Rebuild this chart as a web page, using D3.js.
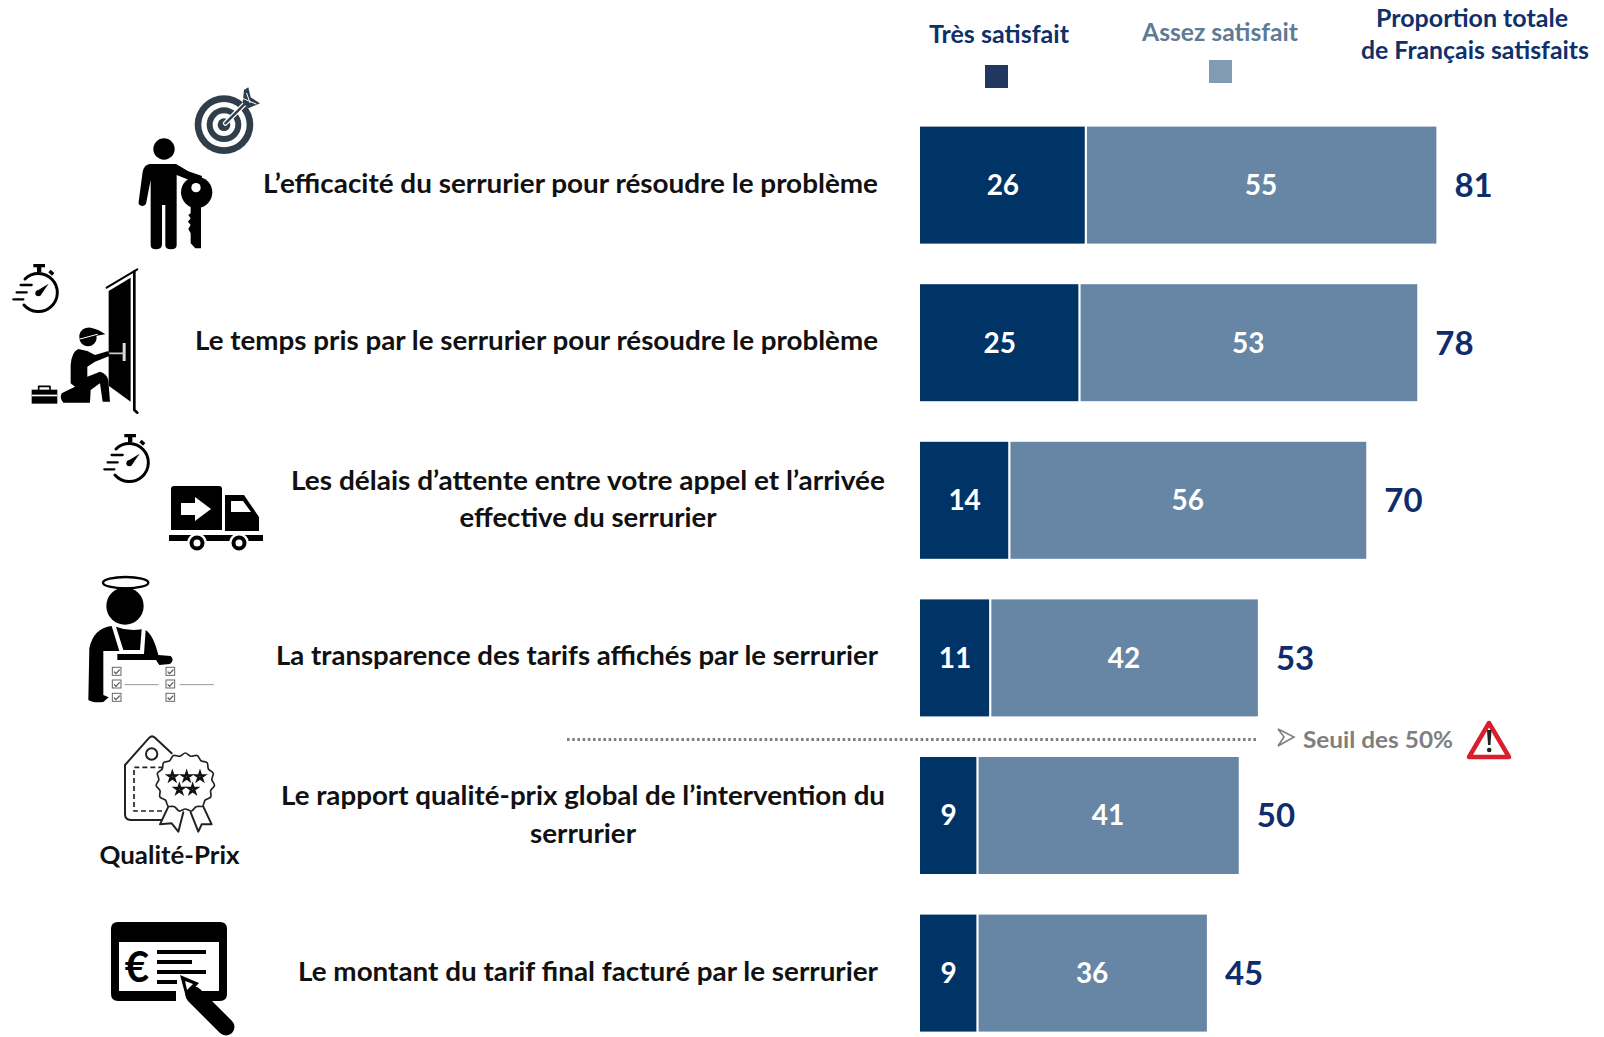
<!DOCTYPE html>
<html lang="fr">
<head>
<meta charset="utf-8">
<title>Satisfaction serrurier</title>
<script src="https://cdn.jsdelivr.net/npm/d3@7"></script>
<style>
  html, body { margin: 0; padding: 0; background: #fff; overflow: hidden; }
  svg { display: block; }
  text { font-family: Lato, "Open Sans", sans-serif; font-weight: 700; }
</style>
</head>
<body>
<div id="chart"></div>
<script>
(function() {
  var criteria = ["efficacite", "temps", "delais", "transparence", "rapport", "montant"];
  var tresSatisfait = [26, 25, 14, 11, 9, 9];
  var assezSatisfait = [55, 53, 56, 42, 41, 36];
  var totals = [81, 78, 70, 53, 50, 45];
  var seriesNames = ["Très satisfait", "Assez satisfait"];
  var labels = [
    ["L’efficacité du serrurier pour résoudre le problème"],
    ["Le temps pris par le serrurier pour résoudre le problème"],
    ["Les délais d’attente entre votre appel et l’arrivée", "effective du serrurier"],
    ["La transparence des tarifs affichés par le serrurier"],
    ["Le rapport qualité-prix global de l’intervention du", "serrurier"],
    ["Le montant du tarif final facturé par le serrurier"]
  ];

  // Width and Height of the whole visualization
  var width = 1604;
  var height = 1037;

  var svg = d3.select("#chart")
    .append("svg")
    .attr("width", width)
    .attr("height", height);

  var xScale = d3.scaleLinear().domain([0, 100]).range([920, 1557.5]);
  var yScale = d3.scaleBand().domain(criteria).range([126.6, 1031.6]).paddingInner(0.2576).paddingOuter(0);

  var table = criteria.map(function(c, i) {
    return { key: c, tres: tresSatisfait[i], assez: assezSatisfait[i] };
  });
  var stacked = d3.stack().keys(["tres", "assez"])(table);
  var barColors = ["#003366", "#6785a5"];

  // bars, with the small white gap between the two parts
  svg.append("g").selectAll("g")
    .data(stacked)
    .enter()
    .append("g")
    .attr("fill", function(d, i) { return barColors[i]; })
    .each(function(s, si) {
      d3.select(this).selectAll("rect")
        .data(s)
        .enter()
        .append("rect")
        .attr("x", function(d) { return xScale(d[0]) + (si == 1 ? 1.2 : 0); })
        .attr("y", function(d) { return yScale(d.data.key); })
        .attr("width", function(d) { return xScale(d[1]) - xScale(d[0]) - (si == 1 ? 1.2 : 1); })
        .attr("height", yScale.bandwidth());

      d3.select(this).selectAll("text")
        .data(s)
        .enter()
        .append("text")
        .attr("x", function(d) { return (xScale(d[0]) + xScale(d[1])) / 2; })
        .attr("y", function(d) { return yScale(d.data.key) + yScale.bandwidth() / 2 + 10; })
        .attr("text-anchor", "middle")
        .attr("fill", "#fff")
        .attr("font-size", 28)
        .text(function(d) { return d[1] - d[0]; });
    });

  // totals at the end of the bars
  svg.append("g").selectAll("text")
    .data(totals)
    .enter()
    .append("text")
    .attr("x", function(d) { return xScale(d) + 18; })
    .attr("y", function(d, i) { return yScale(criteria[i]) + yScale.bandwidth() / 2 + 12; })
    .attr("fill", "#0f2c6b")
    .attr("font-size", 33)
    .text(function(d) { return d; });

  // row labels: end of the text and width of each line
  var labelLayout = [
    [{ x: 571, w: 615, y: 193 }],
    [{ x: 534, w: 683, y: 350 }],
    [{ x: 588, w: 594, y: 490 }, { x: 588, w: 257, y: 527 }],
    [{ x: 573, w: 602, y: 665 }],
    [{ x: 583, w: 604, y: 805 }, { x: 583, w: 106, y: 843 }],
    [{ x: 588, w: 580, y: 981 }]
  ];
  labels.forEach(function(lines, i) {
    lines.forEach(function(line, j) {
      var p = labelLayout[i][j];
      var isRight = lines.length == 1;
      svg.append("text")
        .attr("x", isRight ? 878 : p.x)
        .attr("y", p.y)
        .attr("text-anchor", isRight ? "end" : "middle")
        .attr("fill", "#111")
        .attr("font-size", 27)
        .attr("textLength", p.w)
        .attr("lengthAdjust", "spacingAndGlyphs")
        .text(line);
    });
  });

  // legend
  function headText(t, x, y, w, color) {
    svg.append("text")
      .attr("x", x).attr("y", y)
      .attr("fill", color)
      .attr("font-size", 25)
      .attr("textLength", w)
      .attr("lengthAdjust", "spacingAndGlyphs")
      .text(t);
  }
  headText(seriesNames[0], 929, 43, 140, "#10306b");
  headText(seriesNames[1], 1142, 41, 156, "#5f7a94");
  headText("Proportion totale", 1376, 27, 192, "#10306b");
  headText("de Français satisfaits", 1361, 59, 228, "#10306b");
  svg.append("rect").attr("x", 985).attr("y", 65).attr("width", 23).attr("height", 23).attr("fill", "#22375f");
  svg.append("rect").attr("x", 1209).attr("y", 60).attr("width", 23).attr("height", 23).attr("fill", "#829bb5");

  // 50% line
  svg.append("line")
    .attr("x1", 567).attr("x2", 1257)
    .attr("y1", 739.5).attr("y2", 739.5)
    .attr("stroke", "#7f7f7f")
    .attr("stroke-width", 3)
    .attr("stroke-dasharray", "2.6 2.6");
  svg.append("path")
    .attr("d", "M1278 729 L1294 737 L1278 746 L1284 737Z")
    .attr("fill", "#fff").attr("stroke", "#808080").attr("stroke-width", 1.6);
  svg.append("text")
    .attr("x", 1303).attr("y", 748)
    .attr("fill", "#7f7f7f")
    .attr("font-size", 23.5)
    .attr("textLength", 150)
    .attr("lengthAdjust", "spacingAndGlyphs")
    .text("Seuil des 50%");
  svg.append("path")
    .attr("d", "M1489 723 L1469 757 H1509Z")
    .attr("fill", "#fff").attr("stroke", "#d8202c").attr("stroke-width", 4.5).attr("stroke-linejoin", "round");
  svg.append("path")
    .attr("d", "M1487 730 H1491.5 L1490.5 745 H1488Z")
    .attr("fill", "#222");
  svg.append("circle").attr("cx", 1489.2).attr("cy", 750).attr("r", 2.3).attr("fill", "#222");

  // icons, drawn in the 3x coordinates of the crops they were measured on
  function icon(x, y) {
    return svg.append("g").attr("transform", "translate(" + x + "," + y + ") scale(0.3333)");
  }
  function fillPath(g, d, color) {
    return g.append("path").attr("d", d).attr("fill", color || "#000");
  }
  function linePath(g, d, w, color) {
    return g.append("path").attr("d", d).attr("fill", "none")
      .attr("stroke", color || "#000").attr("stroke-width", w)
      .attr("stroke-linecap", "round").attr("stroke-linejoin", "round");
  }

  // target + man with a key
  var a = icon(120, 80);
  [[312, 134, 88, "#2f3e4a"], [312, 134, 68, "#fff"], [312, 134, 52, "#2f3e4a"], [312, 134, 34, "#fff"], [312, 134, 19, "#2f3e4a"]].forEach(function(c) {
    a.append("circle").attr("cx", c[0]).attr("cy", c[1]).attr("r", c[2]).attr("fill", c[3]);
  });
  linePath(a, "M316 130 L392 54", 15, "#fff");
  linePath(a, "M316 130 L388 58", 7, "#2f3e4a");
  fillPath(a, "M372 30 L385 22 L392 52 L420 70 L385 85 L368 68Z", "#2f3e4a");
  linePath(a, "M380 40 L390 68 M368 55 L408 72", 3, "#fff");
  a.append("circle").attr("cx", 132).attr("cy", 207).attr("r", 32);
  fillPath(a, "M88 252 H168 L205 274 L246 288 L244 297 L200 297 L170 285 V495 Q170 508 153 508 Q136 508 136 495 V375 H126 V495 Q124 508 108 508 Q92 508 92 495 V300 L78 372 Q70 382 60 376 Q54 372 56 365 L68 275 Q72 256 88 252Z");
  a.append("circle").attr("cx", 230).attr("cy", 337).attr("r", 47);
  a.append("circle").attr("cx", 228).attr("cy", 323).attr("r", 14).attr("fill", "#fff");
  fillPath(a, "M212 375 V400 L205 405 L212 415 L204 425 L212 435 L205 447 L212 460 V490 L226 505 H243 V375Z");

  // stopwatch used twice
  function stopwatch(x, y) {
    var g = icon(x, y);
    linePath(g, "M75 72 A57 57 0 1 1 72 150", 9);
    fillPath(g, "M100 27 H135 V37 H124 V52 H111 V37 H100Z");
    fillPath(g, "M145 52 L152 44 L163 54 L156 62Z");
    linePath(g, "M62 90 H95 M50 112 H80 M40 133 H70", 7);
    g.append("circle").attr("cx", 115).attr("cy", 115).attr("r", 9);
    fillPath(g, "M110 108 L146 86 L122 121Z");
    return g;
  }
  stopwatch(0, 255);
  stopwatch(91, 425);

  // man at a door
  var b = icon(0, 255);
  fillPath(b, "M326 108 L392 68 V440 L326 392Z");
  linePath(b, "M320 98 L412 43", 6);
  linePath(b, "M403 50 V465 L412 473", 8);
  fillPath(b, "M368 264 H377 V318 H368Z", "#ddd");
  linePath(b, "M328 295 H372", 5, "#ccc");
  b.append("circle").attr("cx", 264).attr("cy", 248).attr("r", 26);
  fillPath(b, "M238 240 Q245 216 272 218 Q295 222 316 238 L290 242 L270 262 L240 250Z");
  linePath(b, "M240 252 L292 238", 3, "#fff");
  fillPath(b, "M235 282 Q215 290 212 330 L212 385 L225 395 L185 415 Q178 430 190 443 L270 443 L272 405 L300 385 L308 440 L330 440 L325 375 Q320 355 300 350 L262 365 L262 335 L285 320 L330 302 L325 288 L285 300 L262 288Z");
  fillPath(b, "M95 404 H172 V446 H95Z");
  fillPath(b, "M95 419 H172 V424 H95Z", "#fff");
  linePath(b, "M116 403 V394 H150 V403", 5);

  // truck
  var t = svg.append("g");
  fillPath(t, "M174 486 H219 Q222 486 222 489 V530 H171 V489 Q171 486 174 486Z");
  fillPath(t, "M181 503 H195 V497 L211 509 L195 521 V515 H181Z", "#fff");
  fillPath(t, "M225 495 H244 L259 517 V531 H225Z");
  fillPath(t, "M231 501 H243 L251 512 H231Z", "#fff");
  fillPath(t, "M169 535 H263 V541 H169Z");
  [197, 239].forEach(function(cx) {
    t.append("circle").attr("cx", cx).attr("cy", 543).attr("r", 10).attr("fill", "#fff");
    t.append("circle").attr("cx", cx).attr("cy", 543).attr("r", 5.5).attr("fill", "#fff").attr("stroke", "#000").attr("stroke-width", 4);
  });

  // man with a halo
  var c = icon(80, 570);
  c.append("ellipse").attr("cx", 137).attr("cy", 38).attr("rx", 68).attr("ry", 17)
    .attr("fill", "none").attr("stroke", "#000").attr("stroke-width", 7);
  c.append("circle").attr("cx", 135).attr("cy", 108).attr("r", 56);
  fillPath(c, "M108 170 Q145 185 185 178 L180 240 H130Z");
  fillPath(c, "M28 235 Q40 175 95 168 L118 243 H70 V375 L86 382 L70 396 Q40 400 25 390 Z");
  fillPath(c, "M197 180 Q220 195 235 255 L272 258 Q285 270 270 282 L238 285 L228 270 H112 V252 H192Z");
  [97, 258].forEach(function(bx) {
    [292, 330, 370].forEach(function(by) {
      c.append("rect").attr("x", bx).attr("y", by).attr("width", 26).attr("height", 24)
        .attr("fill", "#fff").attr("stroke", "#666").attr("stroke-width", 3);
      linePath(c, "M" + (bx + 6) + " " + (by + 14) + " l5 5 l10 -11", 3.5, "#555");
    });
  });
  linePath(c, "M135 344 H235 M300 344 H400", 3, "#999");

  // quality-price tag
  var d = icon(100, 725);
  linePath(d, "M190 285 H92 Q75 285 75 268 V120 L148 38 Q156 30 165 38 L215 85", 6, "#222");
  d.append("circle").attr("cx", 155).attr("cy", 87).attr("r", 17)
    .attr("fill", "none").attr("stroke", "#222").attr("stroke-width", 6);
  linePath(d, "M190 127 H102 V258 H195", 5, "#222").attr("stroke-linecap", "butt").attr("stroke-dasharray", "15 9");
  linePath(d, "M205 245 L180 298 L215 295 L235 320 L250 262", 6, "#222").attr("fill", "#fff");
  linePath(d, "M272 262 L295 320 L305 298 L335 298 L310 245", 6, "#222").attr("fill", "#fff");
  var scallop = d3.lineRadial()
    .angle(function(v) { return v * Math.PI / 90; })
    .radius(function(v) { return v % 12 < 6 ? 88 : 80; })
    .curve(d3.curveCardinalClosed);
  linePath(d, scallop(d3.range(0, 180, 6)), 5, "#222")
    .attr("transform", "translate(256,172)").attr("fill", "#fff");
  var star = d3.symbol().type(d3.symbolStar).size(190);
  [[217, 155], [260, 155], [300, 155], [238, 193], [278, 193]].forEach(function(p) {
    d.append("path").attr("d", star()).attr("transform", "translate(" + p[0] + "," + p[1] + ")")
      .attr("fill", "#fff").attr("stroke", "#111").attr("stroke-width", 7);
  });
  svg.append("text")
    .attr("x", 169.5).attr("y", 864)
    .attr("text-anchor", "middle")
    .attr("fill", "#111")
    .attr("font-size", 25)
    .attr("textLength", 140)
    .attr("lengthAdjust", "spacingAndGlyphs")
    .text("Qualité-Prix");

  // invoice with the euro sign
  var e = svg.append("g");
  fillPath(e, "M118 922 H220 Q227 922 227 929 V994 Q227 1001 220 1001 H205 L196 991 H219 V942 H119 V991 H176 V1001 H118 Q111 1001 111 994 V929 Q111 922 118 922Z");
  e.append("text").attr("x", 137).attr("y", 982).attr("text-anchor", "middle").attr("font-size", 42).text("€");
  fillPath(e, "M157 950 H206 V954 H157Z M157 960 H192 V964 H157Z M157 970 H206 V974 H157Z M157 980 H177 V984 H157Z");
  linePath(e, "M194 995 L226 1027", 17);
  fillPath(e, "M180 975 L199 983 L186 997Z");
  fillPath(e, "M185 981 L193 984 L187 990Z", "#fff");

})();
</script>
</body>
</html>
